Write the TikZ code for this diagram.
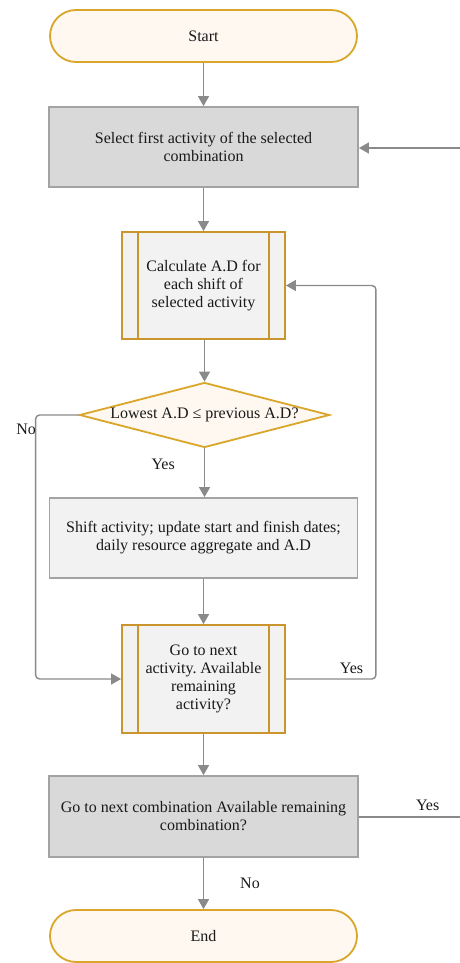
\documentclass[tikz,border=0pt]{standalone}
\usepackage{fontspec}
\setmainfont{Liberation Serif}
\frenchspacing
\usetikzlibrary{positioning}
\usetikzlibrary{arrows.meta}
\usetikzlibrary{shapes.geometric}
\definecolor{termfillc}{HTML}{FEF8F0}
\definecolor{termlinec}{HTML}{D9A62A}
\definecolor{proclinec}{HTML}{C9952C}
\definecolor{darkboxc}{HTML}{D9D9D9}
\definecolor{lightboxc}{HTML}{F2F2F2}
\definecolor{boxlinec}{HTML}{A3A3A3}
\definecolor{flowc}{HTML}{8A8A8A}

\begin{document}
\begin{tikzpicture}[x=1pt,y=-1pt,
  every node/.style={font=\fontsize{16}{18}\selectfont,align=center,inner sep=0pt,text=black!90},
  terminal/.style={draw=termlinec,fill=termfillc,line width=1.8pt,rounded corners=26pt,minimum width=307pt,minimum height=52pt},
  stepbox/.style={draw=boxlinec,line width=1.8pt,minimum width=309pt,minimum height=80pt},
  procbox/.style={draw=proclinec,fill=lightboxc,line width=1.8pt,minimum width=163pt,minimum height=107pt},
  decision/.style={diamond,aspect=3.85,draw=termlinec,fill=termfillc,line width=1.8pt,minimum width=250pt,minimum height=65pt},
  flow/.style={draw=flowc,line width=1.4pt,-{Triangle[width=11pt,length=10pt]}},
  plainline/.style={draw=flowc,line width=1.4pt}]
\useasboundingbox (0,0) rectangle (460,963);

\node[terminal] (start) at (203.5,36) {Start};
\node[stepbox,fill=darkboxc] (firstact) at (203.5,147) {Select first activity of the selected\\combination};
\node[procbox] (calc) at (203.5,285.5) {Calculate A.D for\\each shift of\\selected activity};
\node[decision] (check) at (204.5,415) {Lowest A.D ≤ previous A.D?};
\node[stepbox,fill=lightboxc,minimum width=308pt] (shift) at (203.5,538) {Shift activity; update start and finish dates;\\daily resource aggregate and A.D};
\node[procbox,minimum height=108pt] (nextact) at (203.5,679) {Go to next\\activity. Available\\remaining\\activity?};
\node[stepbox,fill=darkboxc,minimum height=81pt] (nextcomb) at (203.5,816.5) {Go to next combination Available remaining\\combination?};
\node[terminal] (end) at (203.5,936) {End};

\foreach \b in {calc,nextact} {
  \draw[proclinec,line width=1.8pt] ([xshift=17pt]\b.north west) -- ([xshift=17pt]\b.south west);
  \draw[proclinec,line width=1.8pt] ([xshift=-17pt]\b.north east) -- ([xshift=-17pt]\b.south east);
}

\coordinate (backin) at (460,148);
\coordinate (yesout) at (460,817);

\draw[flow] (start) -- (firstact);
\draw[flow] (backin) -- (firstact.east |- backin);
\draw[flow] (firstact) -- (calc);
\draw[flow] (calc.south -| check.north) -- (check.north);
\draw[flow] (check.south) -- node[pos=0.33,left=29pt] {Yes} (check.south |- shift.north);
\draw[flow,rounded corners=4pt] (check.west) -- ++(-43,0) node[below left=8pt and -1pt] {No} |- (nextact.west);
\draw[flow] (shift) -- (nextact);
\draw[flow,rounded corners=4pt] (nextact.east) -- ++(90,0) node[above left=5pt and 12pt] {Yes} |- (calc.east);
\draw[flow] (nextact) -- (nextcomb);
\draw[plainline] (nextcomb.east |- yesout) -- node[pos=0.68,above=6pt] {Yes} (yesout);
\draw[flow] (nextcomb) -- node[right=36pt] {No} (end);
\end{tikzpicture}
\end{document}
